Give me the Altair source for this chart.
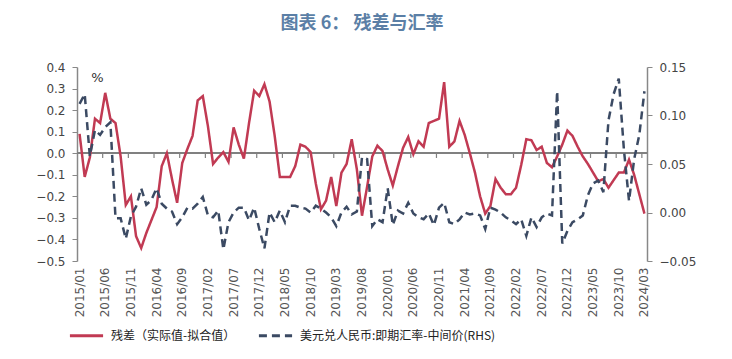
import altair as alt
import pandas as pd

months = [f"{y}/{m:02d}" for y in range(2015, 2025) for m in range(1, 13)][:111]

residual = [
    0.09, -0.11, -0.02, 0.16, 0.14, 0.28, 0.16, 0.14, -0.015, -0.24,
    -0.20, -0.385, -0.44, -0.37, -0.31, -0.25, -0.06, 0.0, -0.12, -0.23,
    -0.045, 0.02, 0.08, 0.245, 0.265, 0.125, -0.05, -0.02, 0.005, -0.04,
    0.12, 0.04, -0.025, 0.14, 0.29, 0.265, 0.32, 0.24, 0.08, -0.11,
    -0.11, -0.11, -0.06, 0.04, 0.03, 0.005, -0.14, -0.26, -0.22, -0.11,
    -0.245, -0.09, -0.05, 0.065, -0.075, -0.29, -0.155, -0.015, 0.035, 0.01,
    -0.075, -0.15, -0.06, 0.025, 0.075, -0.005, 0.055, 0.03, 0.14, 0.15,
    0.16, 0.33, 0.03, 0.055, 0.15, 0.085, 0.0, -0.09, -0.20, -0.28,
    -0.245, -0.12, -0.16, -0.19, -0.19, -0.16, -0.055, 0.065, 0.06, 0.015,
    0.03, -0.045, -0.065, -0.015, 0.04, 0.105, 0.08, 0.03, -0.015, -0.05,
    -0.09, -0.13, -0.12, -0.16, -0.125, -0.09, -0.09, -0.03, -0.10, -0.19,
    -0.28,
]

fx_spread = [
    0.112, 0.122, 0.058, 0.085, 0.080, 0.088, 0.093, -0.006, -0.006, -0.027,
    -0.004, 0.006, 0.025, 0.008, 0.013, 0.025, 0.009, 0.004, 0.001, -0.012,
    -0.005, 0.005, 0.004, 0.009, 0.016, -0.003, -0.005, 0.002, -0.038, -0.010,
    0.000, 0.005, 0.005, -0.008, 0.005, -0.017, -0.037, 0.000, -0.010, 0.002,
    -0.010, 0.007, 0.007, 0.005, 0.004, 0.000, 0.007, 0.004, 0.000, -0.005,
    -0.014, 0.000, 0.006, -0.002, 0.001, 0.057, 0.055, -0.014, -0.007, -0.010,
    0.025, -0.013, 0.002, -0.001, 0.010, -0.001, -0.005, -0.007, -0.001, -0.013,
    0.005, 0.010, -0.010, -0.012, -0.007, 0.000, -0.002, -0.001, -0.003, -0.017,
    0.005, 0.003, 0.000, -0.005, -0.008, -0.012, -0.007, -0.024, -0.005, -0.015,
    -0.005, -0.001, -0.003, 0.125, -0.032, -0.019, -0.010, -0.007, -0.003, 0.018,
    0.030, 0.033, 0.021, 0.095, 0.122, 0.138, 0.065, 0.012, 0.055, 0.080,
    0.125,
]

label_months = months[::5]
tick_months = months[5::5]
left_ticks = [-0.5, -0.4, -0.3, -0.2, -0.1, 0.0, 0.1, 0.2, 0.3, 0.4]
right_ticks = [-0.05, 0.0, 0.05, 0.10, 0.15]

s1 = "残差（实际值-拟合值）"
s2 = "美元兑人民币:即期汇率-中间价(RHS)"
RED = "#C13A53"
NAVY = "#3B4A63"

df1 = pd.DataFrame({"month": months, "value": residual, "series": s1})
df2 = pd.DataFrame({"month": months, "value": fx_spread, "series": s2})
dft = pd.DataFrame({"month": tick_months})

xscale = alt.Scale(domain=months, type="band", paddingInner=0, paddingOuter=0)
xaxis = alt.Axis(values=label_months, labelAngle=-90, domain=False, ticks=False,
                 labelPadding=6, labelFontSize=12, labelColor="#555555",
                 labelFont="DejaVu Sans", title=None, grid=False, labelOverlap=False)

legend = alt.Legend(orient="none", legendX=-9, legendY=250, direction="horizontal",
                    title=None, symbolType="stroke", symbolSize=1100,
                    symbolStrokeWidth=3, labelFont="Noto Sans CJK SC",
                    labelFontSize=12, labelColor="#222222", columnPadding=16,
                    labelOffset=6, labelLimit=400)

color = alt.Color("series:N", scale=alt.Scale(domain=[s1, s2], range=[RED, NAVY]), legend=legend)
dash = alt.StrokeDash("series:N", scale=alt.Scale(domain=[s1, s2], range=[[1, 0], [8, 5]]), legend=legend)

left_axis = alt.Axis(values=left_ticks,
                     format=".1f", grid=False, domainColor="#888888", tickColor="#888888",
                     domainWidth=1.5, tickSize=5, labelFontSize=12, labelColor="#444444",
                     labelFont="DejaVu Sans", labelPadding=7, labelOverlap=False,
                     title="%", titleAngle=0, titleX=20, titleY=10, titleAlign="center",
                     titleBaseline="middle", titleFontWeight="normal", titleFontSize=13,
                     titleColor="#333333", titleFont="DejaVu Sans")
right_axis = alt.Axis(values=right_ticks, format=".2f", grid=False,
                      orient="right", domainColor="#888888", tickColor="#888888",
                      domainWidth=1.5, tickSize=5, labelFontSize=12, labelColor="#444444",
                      labelFont="DejaVu Sans", labelPadding=7, labelOverlap=False, title=None)

lscale = alt.Scale(domain=[-0.5, 0.4], nice=False, zero=False)
rscale = alt.Scale(domain=[-0.05, 0.15], nice=False, zero=False)

zero_rule = alt.Chart(df1).mark_rule(color="#808080", strokeWidth=1.5).encode(
    y=alt.Y(datum=0, type="quantitative", scale=lscale, axis=left_axis)
)

zero_ticks = alt.Chart(dft).mark_rule(color="#808080", strokeWidth=1.2).encode(
    x=alt.X("month:O", sort=months, scale=xscale, axis=xaxis, bandPosition=0),
    y=alt.Y(datum=0, type="quantitative", scale=lscale, axis=left_axis),
    y2=alt.datum(-0.022),
)

red_line = alt.Chart(df1).mark_line(strokeWidth=2.5).encode(
    x=alt.X("month:O", sort=months, scale=xscale, axis=xaxis, bandPosition=0.5),
    y=alt.Y("value:Q", scale=lscale, axis=left_axis),
    color=color, strokeDash=dash,
)

left = alt.layer(zero_rule, zero_ticks, red_line)

dash_line = alt.Chart(df2).mark_line(strokeWidth=2.5).encode(
    x=alt.X("month:O", sort=months, scale=xscale, axis=xaxis, bandPosition=0.5),
    y=alt.Y("value:Q", scale=rscale, axis=right_axis),
    color=color, strokeDash=dash,
)

chart = alt.layer(left, dash_line).resolve_scale(y="independent").properties(
    width=570, height=194,
    autosize=alt.AutoSizeParams(type="none"),
    padding={"left": 69, "top": 59, "right": 77, "bottom": 90},
    title=alt.TitleParams("图表 6：  残差与汇率", fontSize=18, font="Noto Sans CJK SC",
                          fontWeight="bold", color="#5B7FA6", anchor="middle", offset=28),
    background="white",
).configure_view(stroke=None)

chart.save("out.html", embed_options={"renderer": "svg", "actions": False})
